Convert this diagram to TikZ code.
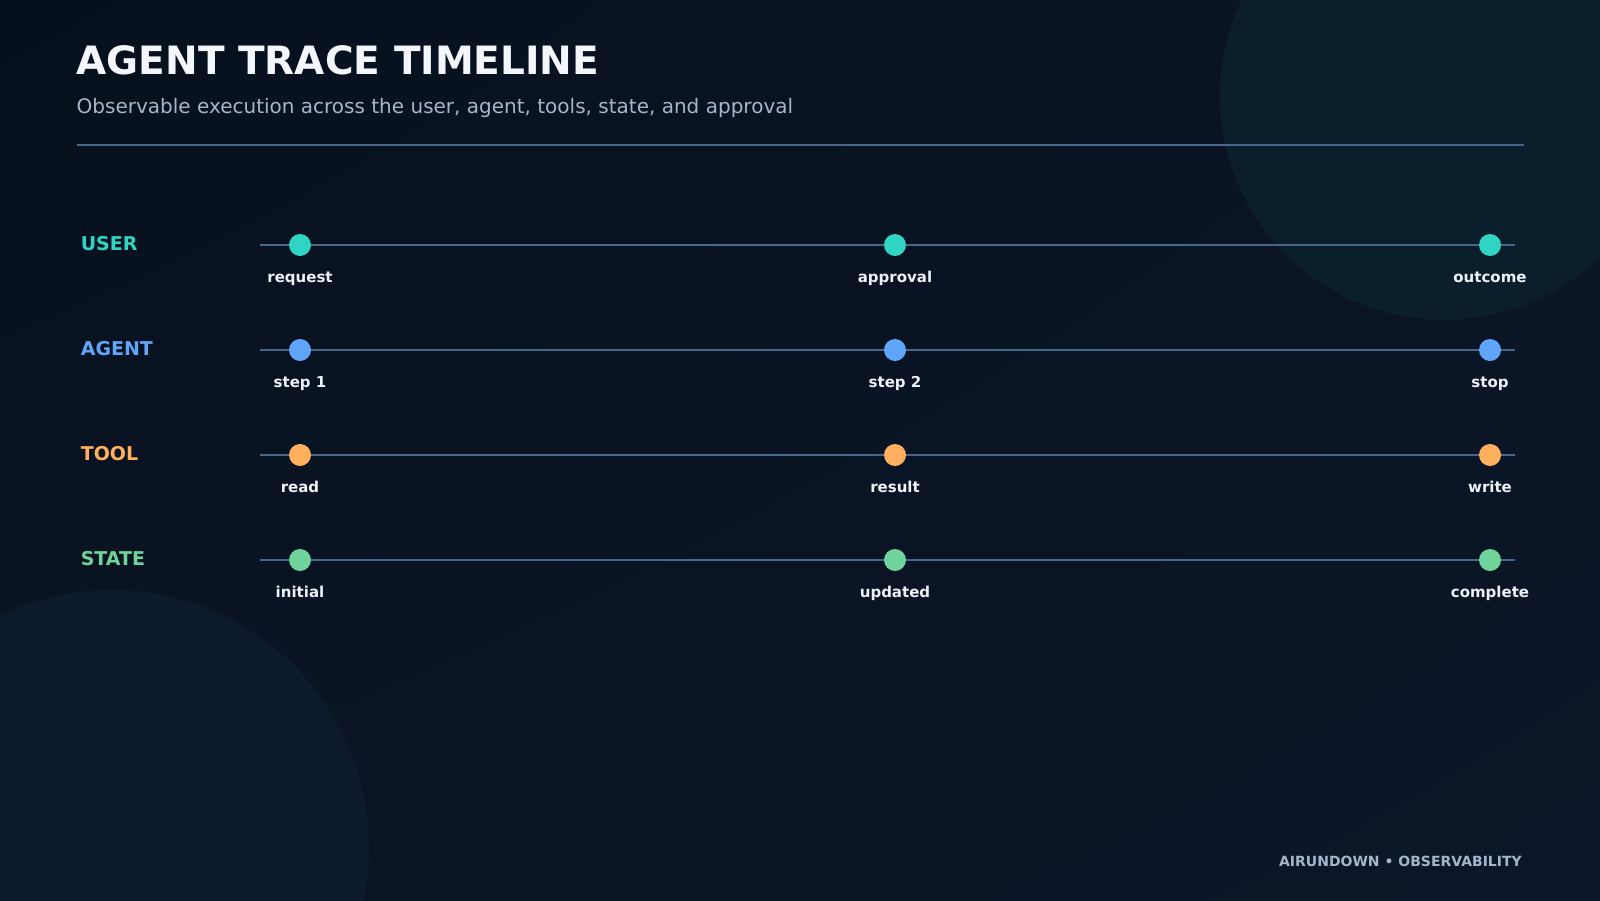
\documentclass[tikz,border=0pt]{standalone}
\usepackage{fontspec}
\setmainfont{DejaVu Sans}
\usetikzlibrary{shadings}
\definecolor{bgA}{HTML}{06101D}
\definecolor{bgB}{HTML}{0A1424}
\definecolor{bgC}{HTML}{0B1628}
\definecolor{circA}{HTML}{0B1E2C}
\definecolor{circB}{HTML}{0D1A2C}
\definecolor{rulec}{HTML}{46678A}
\definecolor{titlec}{HTML}{F3F7FC}
\definecolor{subc}{HTML}{A6B6CA}
\definecolor{evc}{HTML}{EDF2F8}
\definecolor{userc}{HTML}{2FD4C2}
\definecolor{agentc}{HTML}{60A5FA}
\definecolor{toolc}{HTML}{FFAF5E}
\definecolor{statec}{HTML}{6FD39A}
\tikzset{
  lanelabel/.style={anchor=base west,inner sep=0pt,font=\fontsize{19}{22}\selectfont\bfseries},
  evlabel/.style={anchor=base,inner sep=0pt,text=evc,font=\fontsize{15}{18}\selectfont\bfseries},
  dot/.style={circle,inner sep=0pt,minimum size=22pt},
  track/.style={draw=rulec,line width=2pt},
}
\begin{document}
\begin{tikzpicture}[x=1pt,y=-1pt]
\useasboundingbox (0,0) rectangle (1600,900);
\shade[upper left=bgA,upper right=bgB,lower left=bgB,lower right=bgC] (0,0) rectangle (1600,900);
\fill[circA] (1444,96) circle (224);
\fill[circB] (112,847) circle (257);
% header
\node[anchor=base west,inner sep=0pt,text=titlec,font=\fontsize{39}{42}\selectfont\bfseries] (title) at (76.5,74.5) {AGENT TRACE TIMELINE};
\node[anchor=base west,inner sep=0pt,text=subc,font=\fontsize{20}{24}\selectfont] (subtitle) at (76.5,113) {Observable execution across the user, agent, tools, state, and approval};
\coordinate (ruleL) at (76.5,145);
\coordinate (ruleR) at (1523.5,145);
\draw[rulec,line width=2pt] (ruleL) -- (ruleR);
% lanes
\foreach \n/\lab/\col/\y/\ea/\eb/\ec in {user/USER/userc/245/request/approval/outcome,
  agent/AGENT/agentc/350/step 1/step 2/stop,
  tool/TOOL/toolc/455/read/result/write,
  state/STATE/statec/560/initial/updated/complete}{
  \node[lanelabel,text=\col] (\n-label) at (80.6,\y+5) {\lab};
  \coordinate (\n-start) at (260,\y);
  \coordinate (\n-end) at (1515,\y);
  \draw[track] (\n-start) -- (\n-end);
  \node[dot,fill=\col] (\n-a) at (300,\y) {};
  \node[dot,fill=\col] (\n-b) at (895,\y) {};
  \node[dot,fill=\col] (\n-c) at (1490,\y) {};
  \node[evlabel] (\n-ta) at (300,\y+37) {\ea};
  \node[evlabel] (\n-tb) at (895,\y+37) {\eb};
  \node[evlabel] (\n-tc) at (1490,\y+37) {\ec};
}
\node[anchor=base east,inner sep=0pt,text=subc,font=\fontsize{14}{16}\selectfont\bfseries] (footer) at (1522,866) {AIRUNDOWN • OBSERVABILITY};
\end{tikzpicture}
\end{document}
